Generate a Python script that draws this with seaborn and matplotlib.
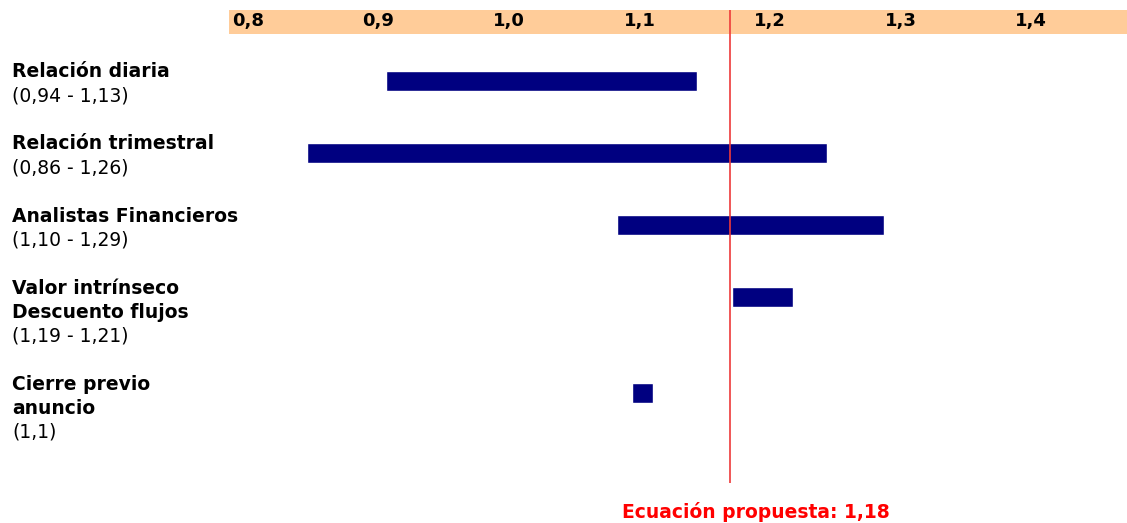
import numpy as np
import pandas as pd
import matplotlib
matplotlib.use("Agg")
import matplotlib.pyplot as plt
from matplotlib.patches import Rectangle
import seaborn as sns

# data
titulos = ["Relación diaria", "Relación trimestral", "Analistas Financieros",
           "Valor intrínseco\nDescuento flujos", "Cierre previo\nanuncio"]
rangos = ["(0,94 - 1,13)", "(0,86 - 1,26)", "(1,10 - 1,29)", "(1,19 - 1,21)", "(1,1)"]
inicio = [0.906, 0.845, 1.083, 1.171, 1.094]
fin = [1.144, 1.244, 1.287, 1.218, 1.110]
ecuacion = 1.169
ecuacion_label = "Ecuación propuesta: 1,18"
ticks = [0.8, 0.9, 1.0, 1.1, 1.2, 1.3, 1.4]
tick_labels = ["0,8", "0,9", "1,0", "1,1", "1,2", "1,3", "1,4"]

# each label block takes its text lines plus one blank line (y in line units)
n_lineas = [t.count("\n") + 2 for t in titulos]
fila = np.concatenate([[0], np.cumsum([n + 1 for n in n_lineas])[:-1]])

df = pd.DataFrame({"cat": titulos, "inicio": inicio, "fin": fin,
                   "y": fila + 0.375})
df["ancho"] = df["fin"] - df["inicio"]

sns.set_style("white")
plt.rcParams["font.family"] = ["DejaVu Sans"]
plt.rcParams["text.color"] = "black"

W, H = 1127, 523
fig = plt.figure(figsize=(W / 100, H / 100), dpi=100)
ax = fig.add_axes([229 / W, 1 - 483 / H, 1 - 229 / W, (483 - 10) / H])

sns.barplot(data=df, x="ancho", y="y", orient="y", native_scale=True,
            color="#000080", saturation=1, width=0.265, ax=ax)
# move each bar so it starts at its lower value
for patch, x0 in zip(ax.patches, df["inicio"]):
    patch.set_x(x0)

ax.set_xlim(0.7854, 1.4736)
ax.set_ylim((483 - 72) / 24, (10 - 72) / 24)

# orange band on top holding the scale
band_h = 24 / 473
ax.add_patch(Rectangle((0, 1 - band_h), 1, band_h, transform=ax.transAxes,
                       color="#FFCC99", zorder=0, lw=0))
ax.axvline(ecuacion, color="#ee3a3a", lw=1.2, zorder=3)

ax.xaxis.tick_top()
ax.set_xticks(ticks)
ax.set_xticklabels(tick_labels, fontsize=13, fontweight="bold", color="black")
ax.tick_params(axis="x", length=0, pad=-14.5)
ax.set_yticks([])
ax.set_xlabel("")
ax.set_ylabel("")
for s in ax.spines.values():
    s.set_visible(False)

# category labels on the left: bold title lines and normal range under them
for f, t, r in zip(fila, titulos, rangos):
    lineas = [(l, "bold") for l in t.split("\n")] + [(r, "normal")]
    for k, (txt, peso) in enumerate(lineas):
        ax.annotate(txt, xy=(12 / W, f + k), xycoords=("figure fraction", "data"),
                    va="center", ha="left", fontsize=13.5, fontweight=peso,
                    color="black", annotation_clip=False)

fig.text(756 / W, 1 - 512 / H, ecuacion_label, color="#ff0000",
         fontsize=13.5, fontweight="bold", ha="center", va="center")

fig.savefig("out.png", dpi=100)
